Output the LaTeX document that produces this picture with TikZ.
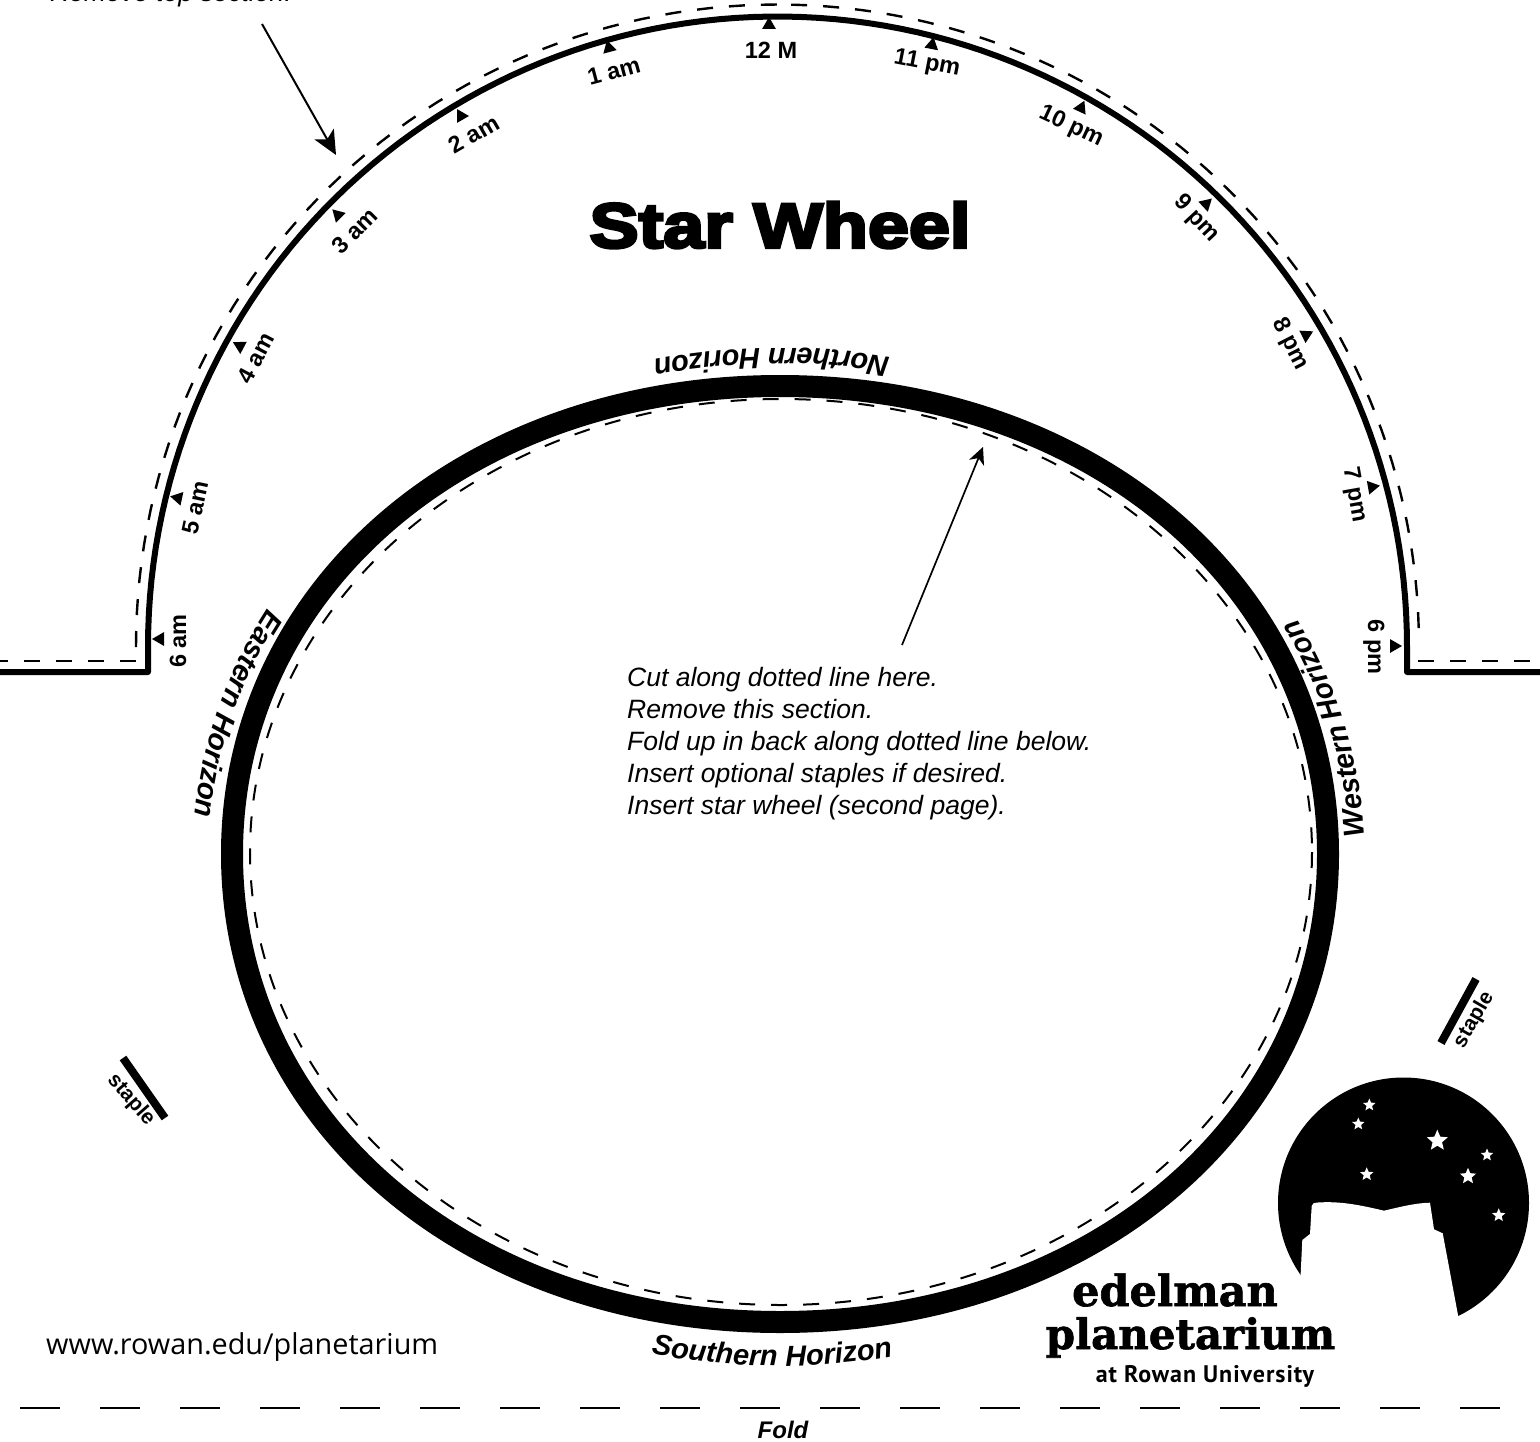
\documentclass[tikz,border=0pt]{standalone}
\usepackage{fontspec}
\setmainfont{Liberation Sans}
\newfontfamily\sitefont{Open Sans}
\newfontfamily\logofont[BoldFeatures={FakeBold=1.5}]{DejaVu Serif}
\newfontfamily\rowanfont[LetterSpace=4]{PT Sans}
\newfontfamily\titlefont[BoldFeatures={FakeBold=5,FakeStretch=1.17}]{Liberation Sans}
\newcommand{\horizonfont}{\fontsize{29}{29}\selectfont\bfseries\itshape}
\usetikzlibrary{arrows.meta,decorations.text,shapes.geometric}

\begin{document}
\begin{tikzpicture}[
  x=1pt, y=-1pt,
  hourlabel/.style={font=\fontsize{23.5}{23.5}\selectfont\bfseries, inner sep=0pt},
  hourmark/.style={regular polygon, regular polygon sides=3, fill=black, inner sep=0pt, minimum size=16pt},
  noteline/.style={font=\fontsize{26.5}{32}\selectfont\itshape, align=left, inner sep=0pt},
  cutline/.style={line width=2.4pt, dash pattern=on 16pt off 16pt},
  ringdash/.style={line width=2pt, dash pattern=on 16pt off 16pt},
  staplebar/.style={line width=8pt},
  staplelabel/.style={font=\fontsize{21}{21}\selectfont\bfseries, inner sep=0pt},
  skystar/.style={star, star points=5, star point ratio=2.2, fill=white, inner sep=0pt, minimum size=#1},
  horizon/.style={decorate, decoration={text along path, text align={center}, text={|\horizonfont|#1}}}
]
\useasboundingbox (0,0) rectangle (1540,1442);

% top section
\draw[line width=6pt, line join=round] (0,672) -- (148,672) -- (148,646)
  -- plot[domain=180:360, samples=120] ({777.5+629.5*cos(\x)},{646+629.5*sin(\x)})
  -- (1407,672) -- (1540,672);
\draw[cutline] (136,647) -- plot[domain=180:270, samples=60] ({777.5+641.5*cos(\x)},{646+641.5*sin(\x)});
\draw[cutline] plot[domain=358.4:270, samples=60] ({777.5+641.5*cos(\x)},{646+641.5*sin(\x)});
\draw[cutline] (136,661) -- (0,661);
\draw[cutline] (1418,661) -- (1540,661);

% hour marks
\foreach \tx/\ty/\lx/\ly/\ang/\hour [count=\n] in {
  160/639/178/641/90/6 am, 178/498/195/508/78/5 am, 240/346/256/358/62/4 am,
  338/215/355/231/45/3 am, 461/116/474/134/30/2 am, 609/48/614/71/15/1 am,
  769/25/771/50/0/12 M, 932/45/927/64/-11/11 pm, 1081/108/1071/127/-25/10 pm,
  1206/204/1196/219/-47/9 pm, 1306/335/1290/344/-63/8 pm, 1372/487/1354/495/-80/7 pm,
  1394/646/1374/647/-90/6 pm}
{
  \node[hourmark, rotate=\ang] (mark\n) at (\tx,\ty) {};
  \node[hourlabel, rotate=\ang] (hour\n) at (\lx,\ly) {\hour};
}

\node[font=\fontsize{63}{63}\selectfont\titlefont\bfseries, inner sep=0pt] (title) at (780,225) {Star Wheel};

% wheel opening
\draw[line width=22pt] (232,854)
  .. controls (232,587.2) and (467.6,386) .. (780,386)
  .. controls (1092.4,386) and (1328,587.2) .. (1328,854)
  .. controls (1328,1120.8) and (1092.4,1322) .. (780,1322)
  .. controls (467.6,1322) and (232,1120.8) .. (232,854) -- cycle;
\draw[ringdash] (781,852) ellipse[x radius=531, y radius=453];

\path[horizon=Northern Horizon] plot[domain=299.2:239.2, samples=60] ({779+586*cos(\x)},{857+509*sin(\x)});
\path[horizon=Eastern Horizon] plot[domain=223.5:169.5, samples=60] ({779+586*cos(\x)},{857+509*sin(\x)});
\path[horizon=Western Horizon] plot[domain=372.2:318.2, samples=60] ({779+586*cos(\x)},{857+509*sin(\x)});
\path[horizon=Southern Horizon] plot[domain=115.7:65.7, samples=60] ({779+586*cos(\x)},{857+509*sin(\x)});

% notes and arrows
\node[noteline, anchor=base west] (removenote) at (50,2) {Remove top section.};
\coordinate (removetail) at (262,24);
\coordinate (removetip) at (336,155);
\draw[line width=2pt, -{Stealth[length=24pt, width=22pt, inset=6pt]}] (removetail) -- (removetip);

\node[noteline, anchor=north west] (cutnote) at (627,667) {Cut along dotted line here.\\Remove this section.\\Fold up in back along dotted line below.\\Insert optional staples if desired.\\Insert star wheel (second page).};
\coordinate (cuttail) at (902,645);
\coordinate (cuttip) at (983,447);
\draw[line width=1.7pt, -{Stealth[length=17pt, width=16pt, inset=5pt]}] (cuttail) -- (cuttip);

% staples
\coordinate (stapleAa) at (123,1058);
\coordinate (stapleAb) at (165,1118);
\coordinate (stapleBa) at (1476,979);
\coordinate (stapleBb) at (1441,1043);
\draw[staplebar] (stapleAa) -- (stapleAb);
\draw[staplebar] (stapleBa) -- (stapleBb);
\node[staplelabel, rotate=-49] (stapleleft) at (131,1100) {staple};
\node[staplelabel, rotate=60] (stapleright) at (1474,1020) {staple};

% logo
\fill (1403.5,1203) circle[radius=125.5];
\fill[white] (1300.7,1273) -- (1302.3,1240) -- (1310,1234) -- (1311.7,1206)
  .. controls (1312,1203) and (1314,1203) .. (1318,1202.5)
  .. controls (1340,1201) and (1360,1205) .. (1384,1210.7)
  .. controls (1400,1207) and (1415,1203) .. (1430,1202.7)
  -- (1434,1229.3) -- (1442.7,1233.3) -- (1458.3,1316.7) -- (1458.3,1340) -- (1300.7,1340) -- cycle;
\node[skystar=13pt] (starA) at (1369.3,1105) {};
\node[skystar=13pt] (starB) at (1358.3,1124) {};
\node[skystar=22pt] (starC) at (1437.3,1140.7) {};
\node[skystar=13pt] (starD) at (1487,1155) {};
\node[skystar=17pt] (starE) at (1468,1176.3) {};
\node[skystar=14pt] (starF) at (1366.7,1174.3) {};
\node[skystar=14pt] (starG) at (1498.7,1215.3) {};

\node[font=\fontsize{43}{43}\selectfont\logofont\bfseries, anchor=base, inner sep=0pt] (edelman) at (1175,1306) {edelman};
\node[font=\fontsize{42}{42}\selectfont\logofont\bfseries, anchor=base, inner sep=0pt] (planetarium) at (1190.5,1349) {planetarium};
\node[font=\fontsize{24}{24}\selectfont\rowanfont\bfseries, anchor=base, inner sep=0pt] (rowan) at (1205,1382) {at Rowan University};

\node[font=\fontsize{28.8}{28.8}\selectfont\sitefont, anchor=base west, inner sep=0pt] (website) at (46,1354) {www.rowan.edu/planetarium};

% fold
\coordinate (foldleft) at (20,1408);
\coordinate (foldright) at (1500,1408);
\draw[line width=2.4pt, dash pattern=on 40pt off 40pt] (foldleft) -- (foldright);
\node[font=\fontsize{24}{24}\selectfont\bfseries\itshape, inner sep=0pt] (foldlabel) at (783,1430) {Fold};

\end{tikzpicture}
\end{document}
